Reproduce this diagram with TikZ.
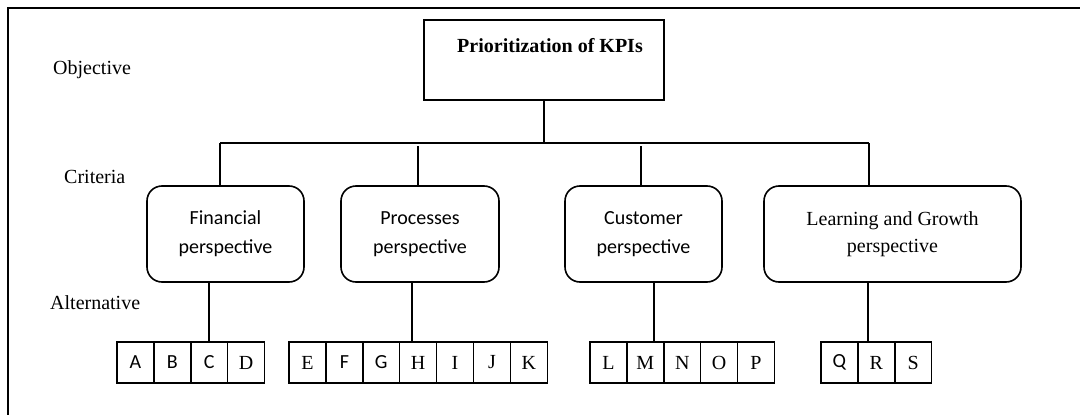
\documentclass[tikz,border=0pt]{standalone}
\usepackage{fontspec}
\setmainfont{Liberation Serif}
\newfontfamily\calfont{Carlito}
\usetikzlibrary{positioning}
\tikzset{	x=1pt, y=-1pt,
	goal/.style={
		draw,
		line width=1.1pt,
		minimum width=240pt,
		minimum height=80pt,
		inner sep=0pt},
	crit/.style={
		draw,
		line width=1.6pt,
		rounded corners=15pt,
		minimum height=96pt,
		align=center,
		inner sep=0pt,
		font=\fontsize{20}{27}\selectfont},
	critcal/.style={
		crit,
		font=\calfont\fontsize{20}{29}\selectfont},
	alt/.style={
		draw,
		line width=1.4pt,
		minimum width=36.9pt,
		minimum height=41pt,
		inner sep=0pt,
		outer sep=0pt,
		font=\fontsize{20}{24}\selectfont},
	tier/.style={
		anchor=west,
		inner sep=0pt,
		font=\fontsize{20}{24}\selectfont},
	link/.style={
		draw,
		line width=1.8pt}
}
\begin{document}
\begin{tikzpicture}
	\useasboundingbox (0,0) rectangle (1080,415);
	\draw[line width=1.8pt] (8,440) -- (8,8) -- (1100,8);
	% levels
	\node[tier] (obj) at (53,70) {Objective};
	\node[tier] (cri) at (64,177) {Criteria};
	\node[tier] (alts) at (50,303) {Alternative};
	% objective
	\node[goal] (goal) at (544,60) {};
	\node[inner sep=0pt, font=\bfseries\fontsize{20}{24}\selectfont] (goaltitle) at (550,46) {Prioritization of KPIs};
	% criteria
	\node[critcal, minimum width=157pt] (fin) at (225.5,234) {Financial\\perspective};
	\node[critcal, minimum width=158pt] (proc) at (420,234) {Processes\\perspective};
	\node[critcal, minimum width=157pt] (cust) at (643.5,234) {Customer\\perspective};
	\node[crit, minimum width=257pt] (learn) at (892.5,234) {Learning and Growth\\perspective};
	% alternatives
	\node[alt] (A) at (135.45,362.5) {\calfont A};
	\node[alt, right=0pt of A] (B) {\calfont B};
	\node[alt, right=0pt of B] (C) {\calfont C};
	\node[alt, right=0pt of C] (D) {D};
	\node[alt] (E) at (307.45,362.5) {E};
	\node[alt, right=0pt of E] (F) {\calfont F};
	\node[alt, right=0pt of F] (G) {\calfont G};
	\node[alt, right=0pt of G] (H) {H};
	\node[alt, right=0pt of H] (I) {I};
	\node[alt, right=0pt of I] (J) {J};
	\node[alt, right=0pt of J] (K) {K};
	\node[alt] (L) at (608.45,362.5) {L};
	\node[alt, right=0pt of L] (M) {M};
	\node[alt, right=0pt of M] (N) {N};
	\node[alt, right=0pt of N] (O) {O};
	\node[alt, right=0pt of O] (P) {P};
	\node[alt] (Q) at (839.45,362.5) {\calfont Q};
	\node[alt, right=0pt of Q] (R) {R};
	\node[alt, right=0pt of R] (S) {S};
	% connectors
	\coordinate (busL) at (220,143);
	\coordinate (busR) at (869,143);
	\coordinate (procup) at (418,146);
	\coordinate (custup) at (641,146);
	\draw[link] (goal.south) -- (goal.south |- busL);
	\draw[link] (busL) -- (busR);
	\draw[link] (busL) -- (busL |- fin.north);
	\draw[link] (procup) -- (procup |- proc.north);
	\draw[link] (custup) -- (custup |- cust.north);
	\draw[link] (busR) -- (busR |- learn.north);
	\coordinate (findown) at (209,0);
	\coordinate (procdown) at (412,0);
	\coordinate (custdown) at (654,0);
	\coordinate (learndown) at (868,0);
	\draw[link] (fin.south -| findown) -- (C.north -| findown);
	\draw[link] (proc.south -| procdown) -- (H.north -| procdown);
	\draw[link] (cust.south -| custdown) -- (M.north -| custdown);
	\draw[link] (learn.south -| learndown) -- (R.north -| learndown);
\end{tikzpicture}
\end{document}
